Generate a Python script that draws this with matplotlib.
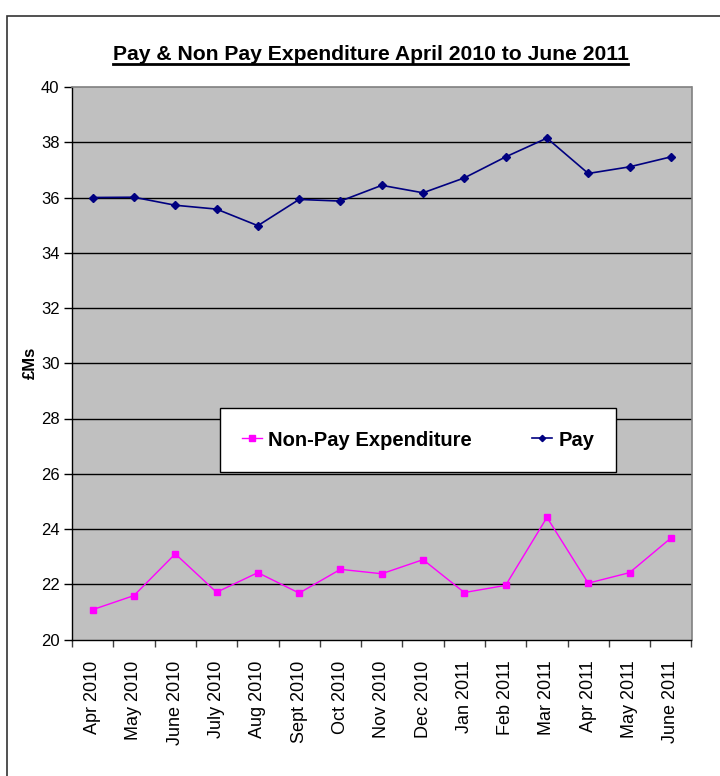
import matplotlib
matplotlib.use("Agg")
import matplotlib.pyplot as plt
from matplotlib.patches import Rectangle
from matplotlib import font_manager

months = ["Apr 2010", "May 2010", "June 2010", "July 2010", "Aug 2010",
          "Sept 2010", "Oct 2010", "Nov 2010", "Dec 2010", "Jan 2011",
          "Feb 2011", "Mar 2011", "Apr 2011", "May 2011", "June 2011"]
pay = [36.00, 36.01, 35.72, 35.58, 34.98, 35.93, 35.87, 36.44, 36.17,
       36.71, 37.47, 38.15, 36.87, 37.11, 37.47]
non_pay = [21.08, 21.59, 23.10, 21.71, 22.42, 21.68, 22.54, 22.38, 22.89,
           21.70, 21.96, 24.42, 22.04, 22.42, 23.67]
y_ticks = [20, 22, 24, 26, 28, 30, 32, 34, 36, 38, 40]

available = {f.name for f in font_manager.fontManager.ttflist}
base_font = "Liberation Sans" if "Liberation Sans" in available else "DejaVu Sans"
plt.rcParams["font.family"] = [base_font, "DejaVu Sans"]

W, H = 720, 776
fig = plt.figure(figsize=(W / 100, H / 100), dpi=100)
fig.patch.set_facecolor("white")

# outer chart frame
fig.patches.append(Rectangle((7 / W, -0.05), 1.2, 1 - 16 / H + 0.05,
                             transform=fig.transFigure, fill=False,
                             edgecolor="#333333", linewidth=1.2))

ax = fig.add_axes([72 / W, 1 - 639.5 / H, (691.5 - 72) / W, (639.5 - 87) / H])
ax.set_facecolor("#C0C0C0")

x = list(range(len(months)))
ln_np, = ax.plot(x, non_pay, color="#FF00FF", marker="s", markersize=5,
                 linewidth=1.0, label="Non-Pay Expenditure", zorder=3)
ln_p, = ax.plot(x, pay, color="#000080", marker="D", markersize=4,
                linewidth=1.2, label="Pay", zorder=3)

ax.set_xlim(-0.5, len(months) - 0.5)
ax.set_ylim(20, 40)
ax.set_yticks(y_ticks)
ax.set_yticklabels([str(v) for v in y_ticks], fontsize=12)
for v in y_ticks[1:-1]:
    ax.axhline(v, color="black", linewidth=1.0, zorder=1)

ax.set_xticks(x)
ax.set_xticklabels(months, rotation=90, fontsize=13)
ax.set_xticks([i - 0.5 for i in range(len(months) + 1)], minor=True)
ax.tick_params(axis="x", which="major", length=0, pad=15)
ax.tick_params(axis="x", which="minor", length=5, width=1, color="#404040")
ax.tick_params(axis="y", length=6, width=1, pad=3)

for s in ("top", "right"):
    ax.spines[s].set_color("#808080")
    ax.spines[s].set_linewidth(1.2)
for s in ("left", "bottom"):
    ax.spines[s].set_color("black")
    ax.spines[s].set_linewidth(1.0)

ax.set_ylabel("£Ms", fontsize=12, fontweight="bold", labelpad=0)
ax.yaxis.set_label_coords(-0.055, 0.5)

fig.text(370.5 / W, 1 - 60.5 / H, "Pay & Non Pay Expenditure April 2010 to June 2011",
         ha="center", va="baseline", fontsize=15.2, fontweight="bold")
fig.add_artist(plt.Line2D([113 / W, 628 / W], [1 - 64 / H, 1 - 64 / H],
                          transform=fig.transFigure, color="black", linewidth=2.0))

leg = ax.legend(handles=[ln_np, ln_p], loc="center", ncol=2,
                bbox_to_anchor=(418 / W, 1 - 440 / H), bbox_transform=fig.transFigure,
                frameon=True, fancybox=False, edgecolor="black", facecolor="white",
                framealpha=1.0, prop={"weight": "bold", "size": 14.5},
                handlelength=1.0, handletextpad=0.3, columnspacing=3.0,
                borderpad=1.1, markerscale=0.8)
leg.get_frame().set_linewidth(1.0)

fig.savefig("out.png", dpi=100)
